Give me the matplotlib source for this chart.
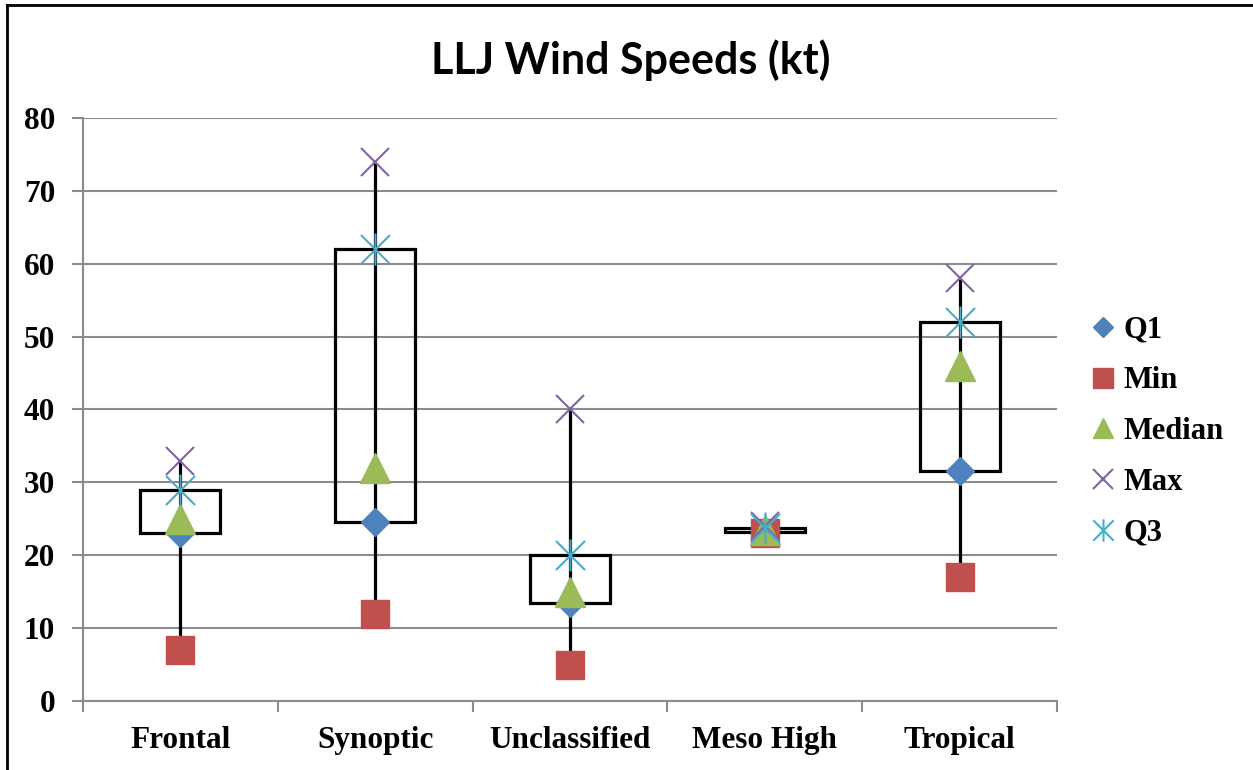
import matplotlib.pyplot as plt
from matplotlib.path import Path
from matplotlib.lines import Line2D

# data
categories = ["Frontal", "Synoptic", "Unclassified", "Meso High", "Tropical"]
q1 = [23, 24.5, 13.5, 23.2, 31.5]
mins = [7, 12, 5, 23, 17]
median = [25, 32, 15, 23.5, 46]
maxs = [33, 74, 40, 24, 58]
q3 = [29, 62, 20, 23.8, 52]

colors = {"Q1": "#4F81BD", "Min": "#C0504D", "Median": "#9BBB59",
          "Max": "#8064A2", "Q3": "#4BACC6"}

# Excel style asterisk: an X with a vertical bar
star = Path([(-1, -1), (1, 1), (-1, 1), (1, -1), (0, -1.1), (0, 1.1)],
            [Path.MOVETO, Path.LINETO, Path.MOVETO, Path.LINETO, Path.MOVETO, Path.LINETO])

tick_font = {"family": "Liberation Serif", "weight": "bold", "size": 22.5}

fig = plt.figure(figsize=(12.53, 7.70), dpi=100)
ax = fig.add_axes([0.0662, 0.0896, 0.7774, 0.7572])

x = list(range(len(categories)))

# whiskers then boxes
ax.vlines(x, mins, maxs, color="black", linewidth=2.3, zorder=3)
ax.bar(x, [b - a for a, b in zip(q1, q3)], bottom=q1, width=0.41,
       fill=False, edgecolor="black", linewidth=2.3, zorder=3)

ax.plot(x, q1, ls="none", marker="D", ms=14.5, color=colors["Q1"], zorder=4, label="Q1")
ax.plot(x, mins, ls="none", marker="s", ms=20, color=colors["Min"], zorder=4, label="Min")
ax.plot(x, median, ls="none", marker="^", ms=21, color=colors["Median"], zorder=4, label="Median")
ax.plot(x, maxs, ls="none", marker="x", ms=20, mew=1.5, color=colors["Max"], zorder=4, label="Max")
ax.plot(x, q3, ls="none", marker=star, ms=23, mew=1.5, color=colors["Q3"], zorder=4, label="Q3")

ax.set_xlim(-0.5, len(categories) - 0.5)
ax.set_ylim(0, 80)
ax.set_yticks(range(0, 81, 10))
ax.yaxis.grid(True, color="#8c8c8c", linewidth=1.5)
ax.set_axisbelow(True)

ax.set_xticks([i - 0.5 for i in range(len(categories) + 1)])
ax.set_xticklabels([])
ax.set_xticks(x, minor=True)
ax.set_xticklabels(categories, minor=True, fontdict=tick_font)
ax.tick_params(axis="x", which="major", length=8, color="#8c8c8c", width=1.5, direction="out")
ax.tick_params(axis="x", which="minor", length=0, pad=18)
ax.tick_params(axis="y", length=8, color="#8c8c8c", width=1.5, pad=12)
for lbl in ax.get_yticklabels():
    lbl.set_fontproperties("Liberation Serif")
    lbl.set_fontweight("bold")
    lbl.set_fontsize(22.5)

for s in ["top", "right"]:
    ax.spines[s].set_visible(False)
for s in ["left", "bottom"]:
    ax.spines[s].set_color("#8c8c8c")
    ax.spines[s].set_linewidth(1.5)

fig.text(0.503, 0.922, "LLJ Wind Speeds (kt)", ha="center", va="center",
         fontsize=31, fontweight="bold", family="Lato")

leg = ax.legend(loc="center left", bbox_to_anchor=(1.006, 0.462), frameon=False,
                prop={"family": "Liberation Serif", "weight": "bold", "size": 22},
                markerscale=0.7, handlelength=0.8, handletextpad=0.3, labelspacing=0.71)

# outer frame (left and top edges)
fig.add_artist(Line2D([0.0056, 0.0056], [0, 0.9935], color="black", linewidth=2, transform=fig.transFigure))
fig.add_artist(Line2D([0.0056, 1], [0.9935, 0.9935], color="black", linewidth=2, transform=fig.transFigure))

fig.savefig("out.png", dpi=100)
